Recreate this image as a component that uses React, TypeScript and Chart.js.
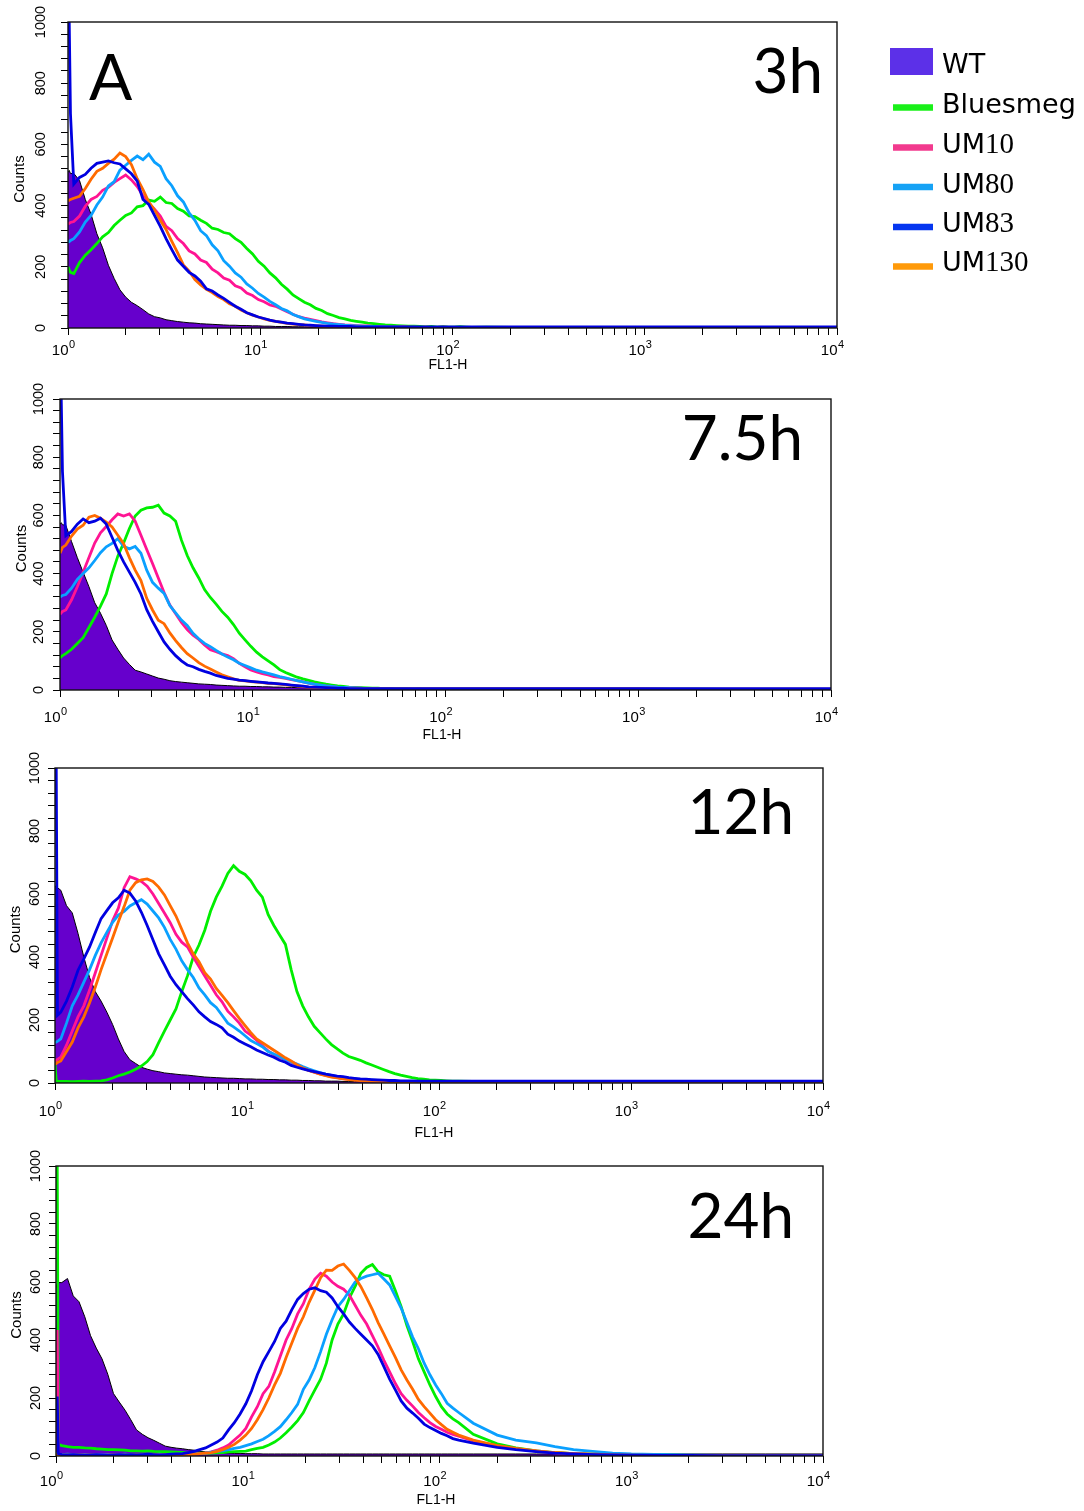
import React, { useEffect, useRef } from 'react';
import { Chart, registerables } from 'chart.js';

Chart.register(...registerables);

// FL1-H channel centres (log-spaced), shared by every histogram
const FL1_H = [
  1, 1.015, 1.03,
  1.072, 1.148, 1.23, 1.318, 1.413, 1.514, 1.622, 1.738, 1.862, 1.995,
  2.138, 2.291, 2.455, 2.63, 2.818, 3.02, 3.236, 3.467, 3.715, 3.981,
  4.266, 4.571, 4.898, 5.248, 5.623, 6.026, 6.457, 6.918, 7.413, 7.943,
  8.511, 9.12, 9.772, 10.47, 11.22, 12.02, 12.88, 13.8, 14.79, 15.85,
  16.98, 18.2, 19.5, 20.89, 22.39, 23.99, 25.7, 27.54, 29.51, 31.62,
  33.88, 36.31, 38.9, 41.69, 44.67, 47.86, 51.29, 54.95, 58.88, 63.1,
  67.61, 72.44, 77.62, 83.18, 89.13, 95.5, 102.3, 109.6, 117.5, 125.9,
  150, 200, 250, 320, 400, 500, 650, 800, 1000, 1500, 2000, 3000, 5000, 10000,
];

// ---- 3h ----
const WT_3H = [
  510, 515, 505,
  505, 482, 420, 372, 308, 262, 205, 162, 125, 101,
  84, 73, 60, 46, 37, 33, 27, 24, 21, 19,
  17, 16, 14, 13, 12, 11, 10, 9, 9, 8,
  8, 7, 7, 6, 6, 5, 5, 5, 4, 4,
  4, 3, 3, 3, 3, 3, 3, 2, 2, 2,
  2, 2, 2, 2, 2, 2, 2, 2, 2, 2,
  2, 2, 2, 2, 2, 2, 2, 2, 2, 2,
  2, 2, 2, 2, 2, 2, 2, 2, 2, 2, 2, 2, 2, 2,
];
const BLUESMEG_3H = [
  200, 190, 182,
  178, 214, 238, 256, 276, 298, 312, 335, 352, 368,
  376, 396, 400, 418, 414, 428, 410, 407, 390, 382,
  366, 364, 352, 342, 326, 322, 312, 308, 292, 280,
  260, 242, 218, 202, 180, 164, 143, 127, 108, 96,
  84, 76, 64, 57, 47, 41, 34, 30, 25, 22,
  19, 16, 14, 12, 10, 9, 8, 7, 6, 6,
  5, 4, 5, 3, 4, 3, 3, 4, 3, 2,
  3, 2, 2, 2, 1, 2, 1, 1, 1, 1, 1, 1, 1, 1,
];
const UM10_3H = [
  340, 342, 345,
  348, 366, 398, 420, 430, 450, 460, 476, 488, 500,
  484, 462, 432, 408, 388, 366, 332, 318, 292, 276,
  252, 242, 222, 214, 192, 180, 163, 156, 138, 131,
  114, 106, 93, 86, 75, 71, 62, 53, 45, 37,
  32, 28, 24, 20, 17, 14, 12, 10, 9, 8,
  7, 7, 5, 5, 4, 4, 3, 4, 3, 3,
  2, 3, 2, 2, 3, 2, 2, 1, 2, 1,
  1, 1, 1, 1, 1, 1, 1, 1, 1, 1, 1, 1, 1, 1,
];
const UM80_3H = [
  280, 282, 286,
  292, 314, 346, 368, 402, 428, 464, 478, 516, 532,
  548, 562, 550, 568, 542, 528, 488, 465, 432, 412,
  376, 352, 318, 302, 272, 252, 220, 202, 180, 166,
  144, 130, 113, 101, 87, 76, 64, 56, 44, 37,
  30, 26, 22, 18, 15, 13, 11, 9, 8, 7,
  6, 5, 5, 4, 4, 3, 3, 3, 2, 3,
  2, 2, 2, 2, 2, 2, 2, 2, 2, 2,
  2, 2, 2, 2, 2, 2, 2, 2, 2, 2, 2, 2, 2, 2,
];
const UM83_3H = [
  1000, 1000, 700,
  470, 492, 502, 522, 538, 542, 546, 540, 536, 520,
  504, 480, 420, 404, 368, 332, 292, 256, 222, 202,
  182, 170, 153, 128, 121, 108, 97, 84, 71, 61,
  50, 43, 36, 31, 26, 22, 19, 16, 14, 12,
  10, 9, 8, 7, 6, 6, 5, 5, 5, 4,
  4, 4, 4, 4, 4, 4, 4, 4, 4, 4,
  4, 4, 4, 4, 4, 4, 4, 4, 4, 4,
  4, 4, 4, 4, 4, 4, 4, 4, 4, 4, 4, 4, 4, 4,
];
const UM130_3H = [
  415, 418, 420,
  424, 430, 456, 486, 512, 522, 538, 552, 572, 560,
  534, 488, 452, 412, 386, 352, 322, 283, 246, 206,
  186, 158, 141, 126, 116, 103, 93, 79, 71, 59,
  50, 42, 36, 30, 25, 22, 18, 15, 13, 11,
  10, 8, 7, 6, 5, 5, 4, 4, 3, 3,
  3, 2, 2, 2, 2, 2, 2, 2, 2, 2,
  2, 2, 2, 2, 2, 2, 2, 2, 2, 2,
  2, 2, 2, 2, 2, 2, 2, 2, 2, 2, 2, 2, 2, 2,
];

// ---- 7.5h ----
const WT_7_5H = [
  570, 575, 568,
  566, 510, 455, 405, 355, 300, 264, 222, 172, 140,
  110, 88, 68, 62, 55, 48, 41, 37, 32, 29,
  27, 25, 23, 21, 20, 19, 17, 16, 15, 14,
  13, 13, 12, 12, 11, 11, 10, 10, 9, 9,
  8, 8, 7, 7, 6, 6, 5, 5, 5, 4,
  4, 4, 4, 3, 3, 3, 3, 3, 3, 3,
  3, 3, 3, 3, 3, 3, 3, 3, 3, 3,
  3, 3, 3, 3, 3, 3, 3, 3, 3, 3, 3, 3, 3, 3,
];
const BLUESMEG_7_5H = [
  110, 115, 118,
  125, 140, 160, 180, 215, 250, 288, 330, 400, 460,
  505, 555, 598, 618, 626, 628, 635, 608, 598, 580,
  515, 462, 420, 385, 345, 318, 295, 270, 250, 225,
  195, 172, 150, 130, 114, 100, 86, 70, 60, 52,
  44, 38, 33, 28, 24, 20, 17, 14, 12, 10,
  9, 8, 7, 6, 6, 5, 5, 4, 4, 4,
  3, 4, 3, 3, 3, 3, 3, 3, 3, 3,
  3, 3, 3, 3, 3, 3, 3, 3, 3, 3, 3, 2, 2, 2,
];
const UM10_7_5H = [
  260, 265, 270,
  275, 310, 355, 405, 455, 505, 540, 562, 585, 605,
  598, 605, 580, 532, 483, 435, 385, 335, 292, 262,
  232, 208, 188, 174, 155, 138, 132, 124, 118, 108,
  92, 80, 69, 62, 56, 52, 46, 43, 40, 36,
  32, 28, 24, 20, 17, 14, 12, 10, 9, 8,
  7, 6, 5, 5, 4, 4, 4, 3, 3, 3,
  3, 3, 3, 3, 3, 3, 3, 3, 3, 3,
  3, 3, 3, 3, 3, 3, 3, 3, 3, 2, 2, 2, 2, 2,
];
const UM80_7_5H = [
  320, 322, 325,
  328, 350, 380, 400, 420, 445, 472, 492, 504, 520,
  494, 485, 493, 470, 412, 370, 350, 332, 290, 265,
  240, 222, 195, 176, 160, 149, 136, 124, 113, 104,
  92, 84, 76, 68, 62, 57, 52, 46, 42, 37,
  32, 28, 24, 20, 17, 14, 12, 10, 9, 8,
  7, 6, 5, 5, 4, 4, 4, 3, 3, 3,
  3, 3, 3, 3, 3, 3, 3, 3, 3, 3,
  3, 3, 3, 3, 3, 3, 3, 3, 3, 2, 2, 2, 2, 2,
];
const UM83_7_5H = [
  1000, 1000, 750,
  530, 545, 570, 588, 575, 580, 590, 570, 525, 480,
  440, 405, 370, 330, 276, 236, 200, 165, 140, 118,
  100, 86, 80, 71, 64, 58, 50, 45, 40, 37,
  34, 32, 30, 28, 26, 24, 23, 21, 19, 17,
  15, 13, 11, 10, 9, 8, 7, 6, 6, 5,
  5, 5, 5, 5, 5, 5, 5, 5, 5, 5,
  5, 5, 5, 5, 5, 5, 5, 5, 5, 5,
  5, 5, 5, 5, 5, 5, 5, 5, 5, 5, 5, 5, 5, 5,
];
const UM130_7_5H = [
  470, 480, 490,
  498, 529, 553, 566, 594, 600, 590, 577, 560, 532,
  503, 455, 412, 376, 315, 275, 240, 228, 196, 170,
  146, 125, 110, 94, 82, 72, 62, 52, 45, 38,
  33, 31, 29, 27, 25, 23, 22, 20, 18, 16,
  14, 12, 10, 9, 8, 7, 6, 5, 5, 4,
  4, 4, 4, 4, 4, 4, 4, 4, 4, 4,
  4, 4, 4, 4, 4, 4, 4, 4, 4, 4,
  4, 4, 4, 4, 4, 4, 4, 4, 4, 3, 3, 3, 3, 3,
];

// ---- 12h ----
const WT_12H = [
  620, 627, 620,
  612, 563, 540, 475, 400, 335, 290, 260, 225, 186,
  140, 100, 74, 62, 50, 44, 39, 36, 32, 30,
  28, 26, 25, 23, 21, 19, 18, 17, 16, 15,
  15, 14, 13, 13, 12, 12, 11, 11, 10, 10,
  9, 9, 8, 8, 7, 7, 6, 6, 6, 5,
  5, 5, 5, 5, 4, 4, 4, 4, 4, 4,
  4, 4, 4, 4, 4, 4, 4, 4, 4, 4,
  4, 4, 4, 4, 4, 4, 4, 4, 4, 4, 4, 4, 4, 4,
];
const BLUESMEG_12H = [
  60, 8, 5,
  5, 5, 4, 5, 6, 5, 6, 7, 10, 16,
  23, 28, 35, 44, 54, 68, 90, 128, 165, 200,
  235, 290, 340, 400, 438, 485, 545, 590, 625, 665,
  690, 672, 662, 642, 612, 590, 535, 500, 470, 440,
  360, 290, 245, 210, 180, 160, 140, 122, 108, 95,
  84, 78, 72, 64, 57, 50, 43, 36, 30, 25,
  21, 17, 14, 12, 10, 9, 8, 7, 6, 6,
  5, 4, 4, 3, 3, 3, 3, 3, 3, 3, 3, 2, 2, 2,
];
const UM10_12H = [
  70, 72, 75,
  82, 120, 165, 210, 245, 295, 350, 405, 460, 515,
  555, 620, 655, 648, 640, 625, 600, 570, 540, 509,
  472, 447, 432, 400, 370, 340, 310, 280, 258, 228,
  210, 190, 165, 152, 136, 118, 102, 90, 82, 74,
  65, 56, 48, 41, 34, 29, 24, 20, 17, 14,
  12, 10, 9, 8, 7, 6, 5, 5, 4, 4,
  4, 4, 4, 4, 4, 4, 4, 4, 4, 4,
  4, 4, 4, 4, 4, 3, 3, 3, 3, 3, 3, 3, 3, 3,
];
const UM80_12H = [
  130, 130, 132,
  140, 190, 245, 280, 320, 360, 405, 445, 478, 510,
  533, 545, 562, 572, 582, 568, 546, 524, 494, 456,
  425, 388, 360, 335, 302, 280, 255, 240, 215, 190,
  178, 165, 150, 135, 125, 115, 100, 92, 84, 75,
  67, 60, 52, 45, 39, 33, 28, 24, 20, 17,
  15, 13, 11, 10, 9, 8, 7, 6, 6, 5,
  5, 5, 5, 5, 5, 5, 5, 5, 5, 5,
  5, 5, 5, 4, 4, 4, 4, 4, 4, 4, 4, 4, 4, 4,
];
const UM83_12H = [
  1000, 1000, 215,
  225, 260, 305, 358, 394, 432, 478, 522, 547, 572,
  588, 612, 603, 578, 542, 500, 455, 410, 375, 339,
  312, 290, 268, 248, 226, 210, 195, 186, 175, 155,
  145, 133, 124, 115, 105, 97, 89, 82, 72, 66,
  56, 50, 45, 40, 36, 32, 28, 25, 22, 20,
  17, 15, 13, 12, 11, 10, 9, 8, 8, 7,
  7, 7, 6, 6, 6, 6, 6, 6, 6, 6,
  6, 6, 6, 6, 6, 6, 6, 6, 6, 6, 6, 6, 6, 6,
];
const UM130_12H = [
  60, 62, 65,
  70, 100, 130, 175, 210, 255, 305, 360, 410, 460,
  512, 560, 612, 636, 645, 648, 640, 622, 597, 563,
  530, 488, 445, 410, 385, 350, 330, 300, 278, 255,
  230, 205, 182, 160, 140, 128, 116, 104, 92, 80,
  70, 58, 48, 40, 34, 28, 23, 19, 16, 13,
  11, 9, 8, 7, 6, 5, 5, 4, 4, 4,
  4, 4, 4, 4, 4, 4, 4, 4, 4, 4,
  4, 4, 4, 4, 4, 3, 3, 3, 3, 3, 3, 3, 3, 3,
];

// ---- 24h ----
const WT_24H = [
  580, 595, 598,
  598, 612, 552, 532, 480, 415, 372, 335, 282, 215,
  186, 158, 125, 90, 75, 63, 54, 44, 34, 30,
  27, 25, 22, 20, 16, 14, 13, 12, 11, 10,
  9, 9, 8, 8, 8, 7, 7, 7, 7, 7,
  7, 7, 7, 7, 7, 7, 7, 7, 7, 7,
  7, 7, 7, 7, 7, 7, 7, 7, 7, 7,
  7, 7, 7, 7, 7, 7, 7, 7, 7, 7,
  7, 7, 7, 7, 7, 7, 7, 7, 7, 7, 7, 7, 7, 7,
];
const BLUESMEG_24H = [
  1000, 1000, 40,
  36, 32, 30, 30, 28, 27, 25, 24, 22, 22,
  21, 20, 18, 18, 17, 18, 16, 15, 15, 14,
  13, 12, 10, 9, 10, 9, 10, 11, 12, 14,
  15, 16, 17, 22, 26, 30, 38, 48, 62, 80,
  100, 122, 150, 190, 228, 265, 320, 400, 455, 490,
  545, 585, 630, 650, 660, 635, 625, 620, 570, 515,
  450, 395, 335, 290, 245, 205, 170, 145, 128, 115,
  75, 42, 28, 18, 12, 8, 6, 5, 4, 3, 2, 2, 1, 1,
];
const UM10_24H = [
  430, 430, 8,
  4, 5, 4, 3, 4, 3, 4, 5, 4, 3,
  4, 5, 4, 3, 4, 5, 4, 5, 4, 5,
  6, 5, 6, 7, 8, 10, 14, 20, 28, 38,
  55, 72, 95, 135, 170, 215, 240, 290, 345, 400,
  440, 490, 525, 575, 610, 630, 620, 600, 585, 575,
  555, 520, 485, 455, 415, 375, 330, 290, 250, 215,
  192, 172, 150, 132, 115, 102, 92, 82, 74, 68,
  52, 35, 25, 17, 11, 8, 5, 4, 3, 2, 2, 1, 1, 1,
];
const UM80_24H = [
  8, 8, 6,
  5, 6, 5, 4, 5, 4, 5, 4, 5, 4,
  5, 6, 5, 4, 5, 4, 5, 6, 5, 6,
  5, 7, 6, 7, 8, 10, 13, 16, 18, 22,
  26, 30, 36, 42, 50, 58, 70, 85, 101, 125,
  150, 178, 230, 262, 305, 360, 420, 470, 515, 540,
  570, 600, 612, 620, 625, 630, 610, 590, 550, 510,
  460, 410, 370, 320, 280, 245, 215, 182, 165, 150,
  113, 72, 55, 45, 32, 22, 15, 10, 7, 5, 3, 2, 1, 1,
];
const UM83_24H = [
  200, 200, 8,
  5, 4, 5, 4, 3, 4, 5, 4, 3, 4,
  5, 4, 5, 4, 5, 6, 5, 4, 5, 6,
  7, 8, 12, 16, 22, 28, 38, 48, 62, 90,
  115, 145, 180, 225, 280, 325, 360, 395, 440, 465,
  505, 540, 560, 575, 580, 570, 565, 545, 515, 490,
  462, 440, 420, 400, 380, 350, 308, 265, 228, 190,
  165, 148, 130, 110, 98, 88, 78, 70, 60, 55,
  44, 30, 22, 15, 10, 7, 5, 4, 3, 2, 2, 1, 1, 1,
];
const UM130_24H = [
  5, 5, 4,
  3, 4, 3, 4, 3, 4, 3, 2, 3, 4,
  3, 4, 3, 4, 3, 4, 5, 4, 5, 4,
  5, 4, 5, 6, 8, 10, 12, 16, 22, 30,
  40, 55, 72, 95, 125, 160, 200, 245, 285, 340,
  390, 440, 480, 530, 572, 615, 641, 640, 655, 662,
  640, 615, 584, 545, 505, 460, 420, 380, 340, 297,
  262, 230, 195, 170, 148, 125, 108, 92, 82, 72,
  55, 36, 26, 18, 12, 8, 6, 4, 3, 2, 2, 1, 1, 1,
];

const SERIES_NAMES = ['WT', 'Bluesmeg', 'UM10', 'UM80', 'UM83', 'UM130'];
const LINE_COLORS = ['rgb(102,0,204)', '#00ee00', '#ff1493', '#0aa0ff', '#0000e0', '#ff6a00'];
const LEGEND_COLORS = ['#5c30e8', '#19f019', '#f23a8e', '#16a2f5', '#0536f0', '#ff9a0a'];
// lower order is painted on top
const DRAW_ORDER = [6, 5, 4, 3, 1, 2];

const TIME_POINTS = ['3h', '7.5h', '12h', '24h'];
const PANEL_SERIES = [
  [WT_3H, BLUESMEG_3H, UM10_3H, UM80_3H, UM83_3H, UM130_3H],
  [WT_7_5H, BLUESMEG_7_5H, UM10_7_5H, UM80_7_5H, UM83_7_5H, UM130_7_5H],
  [WT_12H, BLUESMEG_12H, UM10_12H, UM80_12H, UM83_12H, UM130_12H],
  [WT_24H, BLUESMEG_24H, UM10_24H, UM80_24H, UM83_24H, UM130_24H],
];

const Y_TICKS = [
  0, 40, 80, 120, 160, 200, 240, 280, 320, 360, 400, 440, 480, 520, 560, 600,
  640, 680, 720, 760, 800, 840, 880, 920, 960, 1000,
];
const Y_TICK_LABELS = [0, 200, 400, 600, 800, 1000];
const X_TICKS = [
  1, 2, 3, 4, 5, 6, 7, 8, 9,
  10, 20, 30, 40, 50, 60, 70, 80, 90,
  100, 200, 300, 400, 500, 600, 700, 800, 900,
  1000, 2000, 3000, 4000, 5000, 6000, 7000, 8000, 9000,
  10000,
];
const X_DECADES = [1, 10, 100, 1000, 10000];
const X_TITLE = 'FL1-H';
const Y_TITLE = 'Counts';

// page geometry of each panel (band = canvas strip, plot = frame)
const CANVAS_WIDTH = 860;
const PANEL_LAYOUT = [
  { band: [0, 376], plot: { left: 68, top: 22, right: 837, bottom: 328 }, yLabelX: 41, countsX: 20, tickBase: 355, xTitleX: 448, xTitleBase: 369, titleRight: 823, titleBase: 93, tag: 'A' },
  { band: [376, 745], plot: { left: 60, top: 399, right: 831, bottom: 690 }, yLabelX: 39, countsX: 22, tickBase: 722, xTitleX: 442, xTitleBase: 739, titleRight: 803, titleBase: 460, tag: '' },
  { band: [745, 1145], plot: { left: 55, top: 768, right: 823, bottom: 1083 }, yLabelX: 35, countsX: 16, tickBase: 1116, xTitleX: 434, xTitleBase: 1137, titleRight: 794, titleBase: 834, tag: '' },
  { band: [1145, 1511], plot: { left: 56, top: 1166, right: 823, bottom: 1456 }, yLabelX: 36, countsX: 17, tickBase: 1486, xTitleX: 436, xTitleBase: 1504, titleRight: 794, titleBase: 1238, tag: '' },
];

const AXIS_FONT = '"Liberation Sans", Arial, sans-serif';
const TITLE_FONT = 'Lato, "Noto Sans", sans-serif';

const panelDecor = {
  id: 'panelDecor',
  afterDraw(chart: any, _args: any, opts: any) {
    const { ctx, chartArea: a, scales } = chart;
    const lay = opts.layout;
    const dy = lay.band[0];
    ctx.save();
    ctx.strokeStyle = '#111';
    ctx.lineWidth = 1.4;
    ctx.strokeRect(a.left, a.top, a.right - a.left, a.bottom - a.top);

    ctx.fillStyle = '#000';
    // y tick labels, rotated
    ctx.font = `14.5px ${AXIS_FONT}`;
    ctx.textAlign = 'center';
    ctx.textBaseline = 'middle';
    for (const v of Y_TICK_LABELS) {
      const py = scales.y.getPixelForValue(v);
      ctx.save();
      ctx.translate(lay.yLabelX, py);
      ctx.rotate(-Math.PI / 2);
      ctx.fillText(String(v), 0, 0);
      ctx.restore();
    }
    // y title
    ctx.font = `15px ${AXIS_FONT}`;
    ctx.save();
    ctx.translate(lay.countsX, (a.top + a.bottom) / 2 + 4);
    ctx.rotate(-Math.PI / 2);
    ctx.fillText(Y_TITLE, 0, 0);
    ctx.restore();

    // x tick labels: 10 with a raised exponent
    ctx.textBaseline = 'alphabetic';
    for (const v of X_DECADES) {
      const px = scales.x.getPixelForValue(v);
      ctx.font = `15px ${AXIS_FONT}`;
      ctx.textAlign = 'right';
      ctx.fillText('10', px + 0.5, lay.tickBase - dy);
      ctx.font = `11px ${AXIS_FONT}`;
      ctx.textAlign = 'left';
      ctx.fillText(String(Math.round(Math.log10(v))), px + 1, lay.tickBase - dy - 7);
    }
    ctx.font = `14px ${AXIS_FONT}`;
    ctx.textAlign = 'center';
    ctx.fillText(X_TITLE, lay.xTitleX, lay.xTitleBase - dy);

    // time point and panel tag
    ctx.font = `62px ${TITLE_FONT}`;
    ctx.textAlign = 'right';
    ctx.fillText(opts.title, lay.titleRight, lay.titleBase - dy);
    if (lay.tag) {
      ctx.textAlign = 'left';
      ctx.font = `64px ${TITLE_FONT}`;
      ctx.fillText(lay.tag, 89, 100 - dy);
    }
    ctx.restore();
  },
};

function Panel({ index }: { index: number }) {
  const ref = useRef<HTMLCanvasElement>(null);
  const lay = PANEL_LAYOUT[index];
  const height = lay.band[1] - lay.band[0];

  useEffect(() => {
    const series = PANEL_SERIES[index];
    const datasets = series.map((vals, i) => ({
      label: SERIES_NAMES[i],
      data: FL1_H.map((x, j) => ({ x, y: vals[j] ?? 0 })),
      borderColor: i === 0 ? '#000' : LINE_COLORS[i],
      backgroundColor: LINE_COLORS[i],
      borderWidth: i === 0 ? 1 : 2.8,
      fill: i === 0 ? 'origin' : false,
      pointRadius: 0,
      tension: 0,
      order: DRAW_ORDER[i],
    }));
    const tickGrid = {
      display: true,
      drawOnChartArea: false,
      drawTicks: true,
      tickLength: 7,
      color: '#000',
      lineWidth: 1,
    };
    const chart = new Chart(ref.current as HTMLCanvasElement, {
      type: 'line',
      data: { datasets },
      options: {
        animation: false,
        responsive: false,
        devicePixelRatio: 1,
        layout: {
          padding: {
            top: lay.plot.top - lay.band[0],
            right: CANVAS_WIDTH - lay.plot.right,
            left: 0,
            bottom: 0,
          },
        },
        plugins: {
          legend: { display: false },
          tooltip: { enabled: false },
          panelDecor: { layout: lay, title: TIME_POINTS[index] },
        } as any,
        scales: {
          x: {
            type: 'logarithmic',
            min: 1,
            max: 10000,
            grid: tickGrid,
            border: { display: false },
            ticks: { autoSkip: false, maxRotation: 0, callback: () => '' },
            afterBuildTicks: (s: any) => {
              s.ticks = X_TICKS.map((value) => ({ value }));
            },
            afterFit: (s: any) => {
              s.height = lay.band[1] - lay.plot.bottom;
            },
          },
          y: {
            type: 'linear',
            min: 0,
            max: 1000,
            grid: tickGrid,
            border: { display: false },
            ticks: { autoSkip: false, callback: () => '' },
            afterBuildTicks: (s: any) => {
              s.ticks = Y_TICKS.map((value) => ({ value }));
            },
            afterFit: (s: any) => {
              s.width = lay.plot.left;
            },
          },
        } as any,
      },
      plugins: [panelDecor],
    });
    return () => chart.destroy();
  }, [index]);

  return (
    <canvas
      ref={ref}
      width={CANVAS_WIDTH}
      height={height}
      style={{ position: 'absolute', left: 0, top: lay.band[0], width: CANVAS_WIDTH, height }}
    />
  );
}

const LEGEND_TEXT_BASE = [73, 113, 153, 192.5, 232, 271];
const LEGEND_LINE_Y = [0, 107.5, 147.5, 187, 227, 266.5];

function Legend() {
  return (
    <svg
      width={1084}
      height={300}
      style={{ position: 'absolute', left: 0, top: 0, pointerEvents: 'none' }}
    >
      {SERIES_NAMES.map((name, i) => {
        const m = /^([A-Za-z]+)(\d*)$/.exec(name);
        const word = m ? m[1] : name;
        const digits = m ? m[2] : '';
        return (
          <g key={name}>
            {i === 0 ? (
              <rect x={890} y={48} width={43} height={27} fill={LEGEND_COLORS[0]} />
            ) : (
              <line x1={893} x2={933} y1={LEGEND_LINE_Y[i]} y2={LEGEND_LINE_Y[i]} stroke={LEGEND_COLORS[i]} strokeWidth={6.5} />
            )}
            <text x={942} y={LEGEND_TEXT_BASE[i]} fontSize={27} fontFamily='"DejaVu Sans", sans-serif' fill="#000">
              {word}
              {digits ? (
                <tspan fontFamily='"Liberation Serif", serif' fontSize={29}>{digits}</tspan>
              ) : null}
            </text>
          </g>
        );
      })}
    </svg>
  );
}

export default function App() {
  return (
    <div style={{ position: 'absolute', left: 0, top: 0, width: 1084, height: 1511, background: '#fff', overflow: 'hidden' }}>
      {PANEL_LAYOUT.map((_, i) => (
        <Panel key={i} index={i} />
      ))}
      <Legend />
    </div>
  );
}
